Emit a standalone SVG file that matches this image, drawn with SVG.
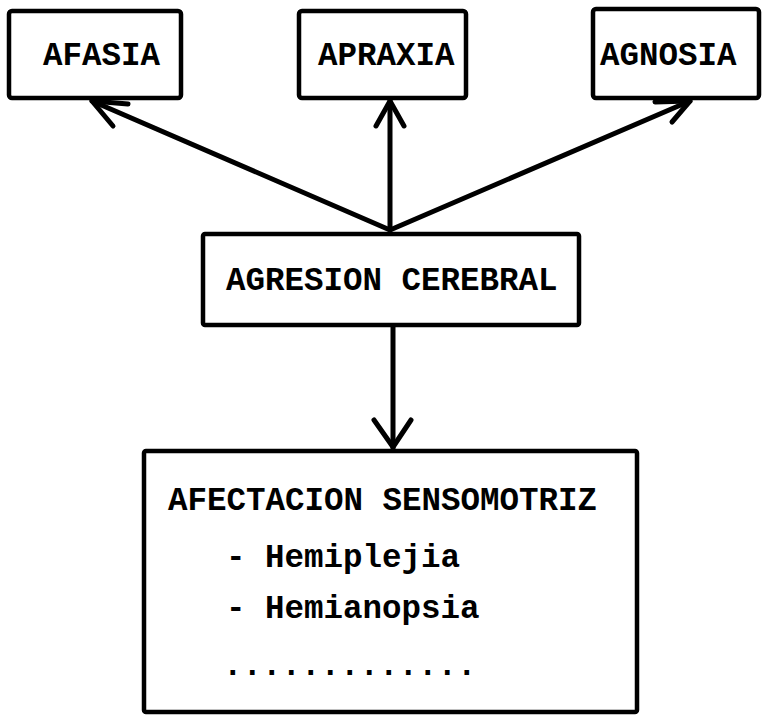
<svg xmlns="http://www.w3.org/2000/svg" width="764" height="721" viewBox="0 0 764 721">
  <style>
    .box { fill: #ffffff; stroke: #000000; stroke-width: 4.5; stroke-linejoin: round; }
    .label { font-family: "Liberation Mono", "DejaVu Sans Mono", monospace; font-weight: bold; font-size: 32.5px; fill: #000000; }
    .edge { fill: none; stroke: #000000; stroke-width: 5; stroke-linecap: round; stroke-linejoin: round; }
  </style>
  <rect width="764" height="721" fill="#ffffff"/>

  <!-- connectors -->
  <g id="connectors">
    <!-- to AFASIA -->
    <path class="edge" d="M390,230 L92,101"/>
    <path class="edge" d="M113,126 L92,101 L128,104"/>
    <!-- to APRAXIA -->
    <path class="edge" d="M390,230 L390,101"/>
    <path class="edge" d="M376,126 L390,101 L404,126"/>
    <!-- to AGNOSIA -->
    <path class="edge" d="M390,230 L690,101"/>
    <path class="edge" d="M655,102 L690,101 L672,122"/>
    <!-- to AFECTACION SENSOMOTRIZ -->
    <path class="edge" d="M393,325 L393,448"/>
    <path class="edge" d="M374,420 L393,447 L411,420"/>
  </g>

  <g id="afasia">
    <rect class="box" x="9" y="11" width="172" height="87" rx="3"/>
    <text class="label" x="43" y="65">AFASIA</text>
  </g>

  <g id="apraxia">
    <rect class="box" x="299" y="11" width="167" height="87" rx="3"/>
    <text class="label" x="318" y="65">APRAXIA</text>
  </g>

  <g id="agnosia">
    <rect class="box" x="593" y="9" width="166" height="89" rx="3"/>
    <text class="label" x="600" y="65">AGNOSIA</text>
  </g>

  <g id="agresion-cerebral">
    <rect class="box" x="203" y="234" width="376" height="91" rx="2"/>
    <text class="label" x="226" y="290">AGRESION CEREBRAL</text>
  </g>

  <g id="afectacion-sensomotriz">
    <rect class="box" x="144" y="451" width="493" height="261" rx="2"/>
    <text class="label" x="168" y="510">AFECTACION SENSOMOTRIZ</text>
    <text class="label" x="226" y="567">- Hemiplejia</text>
    <text class="label" x="226" y="618">- Hemianopsia</text>
    <text class="label" x="223" y="675">.............</text>
  </g>
</svg>
